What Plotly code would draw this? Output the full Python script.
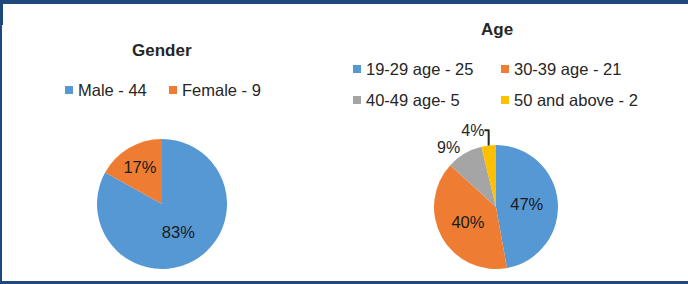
import plotly.graph_objects as go

W, H = 688, 284

# ---- data ----
gender_labels = ["Male - 44", "Female - 9"]
gender_values = [44, 9]
gender_colors = ["#5598D4", "#EE7D33"]

age_labels = ["19-29 age - 25", "30-39 age - 21", "40-49 age- 5", "50 and above - 2"]
age_values = [25, 21, 5, 2]
age_colors = ["#5598D4", "#EE7D33", "#A5A5A5", "#FFC000"]

# ---- layout helpers (pixel positions of legend entries: marker-left, row-centre) ----
gender_legend_pos = [(65, 90), (169, 90)]
age_legend_pos = [(353, 69), (501, 69), (353, 100), (501, 100)]

FONT = "Liberation Sans, Arial, sans-serif"
TXT = "#262626"


def px(x):
    return x / W


def py(y):
    return 1 - y / H


fig = go.Figure()

fig.add_trace(go.Pie(
    labels=gender_labels, values=gender_values, sort=False,
    direction="clockwise", rotation=0,
    marker=dict(colors=gender_colors, line=dict(width=0)),
    texttemplate="%{percent:.0%}", textposition="inside",
    insidetextorientation="horizontal",
    textfont=dict(family=FONT, size=16.5, color="#1a1a1a"),
    domain=dict(x=[px(97), px(227)], y=[py(269), py(139)]),
    showlegend=False, hoverinfo="label+percent",
))

fig.add_trace(go.Pie(
    labels=age_labels, values=age_values, sort=False,
    direction="clockwise", rotation=0,
    marker=dict(colors=age_colors, line=dict(width=0)),
    texttemplate="%{percent:.0%}",
    textposition=["inside", "inside", "outside", "outside"],
    insidetextorientation="horizontal",
    textfont=dict(family=FONT, size=16.5, color="#1a1a1a"),
    outsidetextfont=dict(family=FONT, size=16, color="#262626"),
    domain=dict(x=[px(434), px(558)], y=[py(269), py(145)]),
    showlegend=False, hoverinfo="label+percent",
))

frame = "#1F497D"
shapes = [
    dict(type="rect", xref="paper", yref="paper", x0=0, x1=1, y0=py(4), y1=1,
         fillcolor=frame, line=dict(width=0), layer="above"),
    dict(type="rect", xref="paper", yref="paper", x0=0, x1=px(3), y0=py(25), y1=1,
         fillcolor=frame, line=dict(width=0), layer="above"),
    dict(type="rect", xref="paper", yref="paper", x0=0, x1=px(2), y0=0, y1=1,
         fillcolor=frame, line=dict(width=0), layer="above"),
    dict(type="rect", xref="paper", yref="paper", x0=0, x1=1, y0=0, y1=3 / H,
         fillcolor=frame, line=dict(width=0), layer="above"),
]

annotations = [
    dict(text="<b>Gender</b>", x=px(162), y=py(50), xref="paper", yref="paper",
         xanchor="center", yanchor="middle",
         showarrow=False, font=dict(family=FONT, size=17, color=TXT)),
    dict(text="<b>Age</b>", x=px(497), y=py(30), xref="paper", yref="paper",
         xanchor="center", yanchor="middle",
         showarrow=False, font=dict(family=FONT, size=17, color=TXT)),
]


def add_legend(labels, colors, positions):
    for lab, col, (mx, my) in zip(labels, colors, positions):
        shapes.append(dict(type="rect", xref="paper", yref="paper",
                           x0=px(mx), x1=px(mx + 8), y0=py(my + 4), y1=py(my - 4),
                           fillcolor=col, line=dict(width=0)))
        annotations.append(dict(text=lab, x=px(mx + 11), y=py(my), xref="paper", yref="paper",
                                xanchor="left", yanchor="middle", showarrow=False,
                                font=dict(family=FONT, size=16.5, color=TXT)))


add_legend(gender_labels, gender_colors, gender_legend_pos)
add_legend(age_labels, age_colors, age_legend_pos)

fig.update_layout(
    width=W, height=H,
    margin=dict(l=0, r=0, t=0, b=0),
    paper_bgcolor="white", plot_bgcolor="white",
    font=dict(family=FONT, color=TXT),
    shapes=shapes,
    annotations=annotations,
    showlegend=False,
)

post = "document.body.style.margin='0';document.body.style.overflow='hidden';"

fig.write_html("out.html", post_script=post, config={"displayModeBar": False})
